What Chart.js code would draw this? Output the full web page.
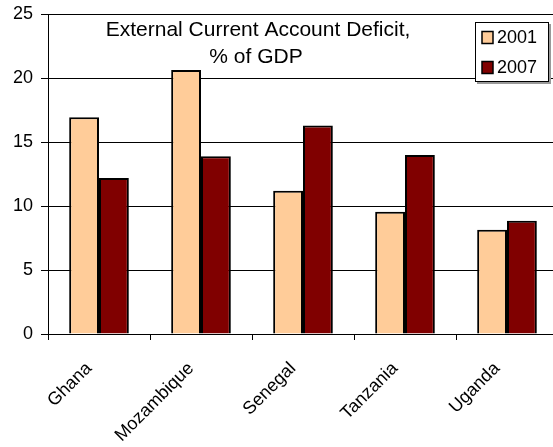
<!DOCTYPE html>
<html>
<head>
<meta charset="utf-8">
<script src="https://cdn.jsdelivr.net/npm/chart.js@4"></script>
<style>
  html, body { margin: 0; padding: 0; overflow: hidden; background: #fff; }
</style>
</head>
<body>
<canvas id="chartCanvas" width="558" height="447"></canvas>
<script>
const countries = ["Ghana", "Mozambique", "Senegal", "Tanzania", "Uganda"];
const deficit2001 = [16.95, 20.65, 11.2, 9.55, 8.15];
const deficit2007 = [12.2, 13.9, 16.3, 14.0, 8.85];
const seriesLabels = ["2001", "2007"];
const seriesColors = ["#FFCC99", "#800000"];
const yTicks = [0, 5, 10, 15, 20, 25];
const titleLines = ["External Current Account Deficit,", "% of GDP"];

const fontFamily = '"Liberation Sans", Arial, sans-serif';

// title inside the plot, Excel style
const titlePlugin = {
    id: "innerTitle",
    afterDraw(chart) {
        const ctx = chart.ctx;
        ctx.save();
        ctx.fillStyle = "#000";
        ctx.font = "21px " + fontFamily;
        ctx.textAlign = "center";
        ctx.textBaseline = "alphabetic";
        ctx.fillText(titleLines[0], 258, 36);
        ctx.fillText(titleLines[1], 256, 62.5);
        ctx.restore();
    }
};

// boxed legend with a shadow, top right
const legendPlugin = {
    id: "boxLegend",
    afterDraw(chart) {
        const ctx = chart.ctx;
        const x = 475, y = 22, w = 74, h = 60;
        ctx.save();
        ctx.fillStyle = "#999";
        ctx.fillRect(x + 2, y + 2, w, h);
        ctx.fillStyle = "#fff";
        ctx.fillRect(x, y, w, h);
        ctx.strokeStyle = "#000";
        ctx.lineWidth = 1;
        ctx.strokeRect(x + 0.5, y + 0.5, w - 1, h - 1);
        ctx.font = "18px " + fontFamily;
        ctx.textBaseline = "middle";
        ctx.textAlign = "left";
        chart.data.datasets.forEach((ds, i) => {
            const cy = 37.5 + i * 30;
            ctx.fillStyle = ds.backgroundColor;
            ctx.fillRect(482, cy - 6, 11, 12);
            ctx.lineWidth = 1.5;
            ctx.strokeRect(482, cy - 6, 11, 12);
            ctx.fillStyle = "#000";
            ctx.fillText(ds.label, 497, cy + 1);
        });
        ctx.restore();
    }
};

const ctx = document.getElementById("chartCanvas").getContext("2d");

new Chart(ctx, {
    type: "bar",
    data: {
        labels: countries,
        datasets: [
            {
                label: seriesLabels[0],
                data: deficit2001,
                backgroundColor: seriesColors[0],
                borderColor: "#000",
                borderWidth: 2,
            },
            {
                label: seriesLabels[1],
                data: deficit2007,
                backgroundColor: seriesColors[1],
                borderColor: "#000",
                borderWidth: 2,
            },
        ],
    },
    options: {
        responsive: false,
        animation: false,
        devicePixelRatio: 1,
        layout: {
            padding: { left: 0, right: 0, top: 14.3, bottom: 0 },
        },
        datasets: {
            bar: {
                categoryPercentage: 0.585,
                barPercentage: 1,
            },
        },
        plugins: {
            legend: { display: false },
            tooltip: { enabled: false },
        },
        scales: {
            x: {
                offset: true,
                grid: {
                    offset: true,
                    drawOnChartArea: false,
                    color: "#000",
                    tickLength: 6,
                },
                border: { color: "#000", width: 1 },
                ticks: {
                    color: "#000",
                    font: { family: fontFamily, size: 18 },
                    minRotation: 45,
                    maxRotation: 45,
                    autoSkip: false,
                    padding: 18,
                    labelOffset: -10,
                },
                afterFit(scale) {
                    scale.height = 113;
                },
            },
            y: {
                min: 0,
                max: 25,
                afterBuildTicks(scale) {
                    scale.ticks = yTicks.map(v => ({ value: v }));
                },
                grid: {
                    color: "#000",
                    tickLength: 7,
                },
                border: { color: "#000", width: 1 },
                ticks: {
                    color: "#000",
                    font: { family: fontFamily, size: 18 },
                    padding: 8,
                },
                afterFit(scale) {
                    scale.width = 48;
                    scale.paddingTop = 0;
                    scale.paddingBottom = 0;
                },
            },
        },
    },
    plugins: [titlePlugin, legendPlugin],
});
</script>
</body>
</html>
